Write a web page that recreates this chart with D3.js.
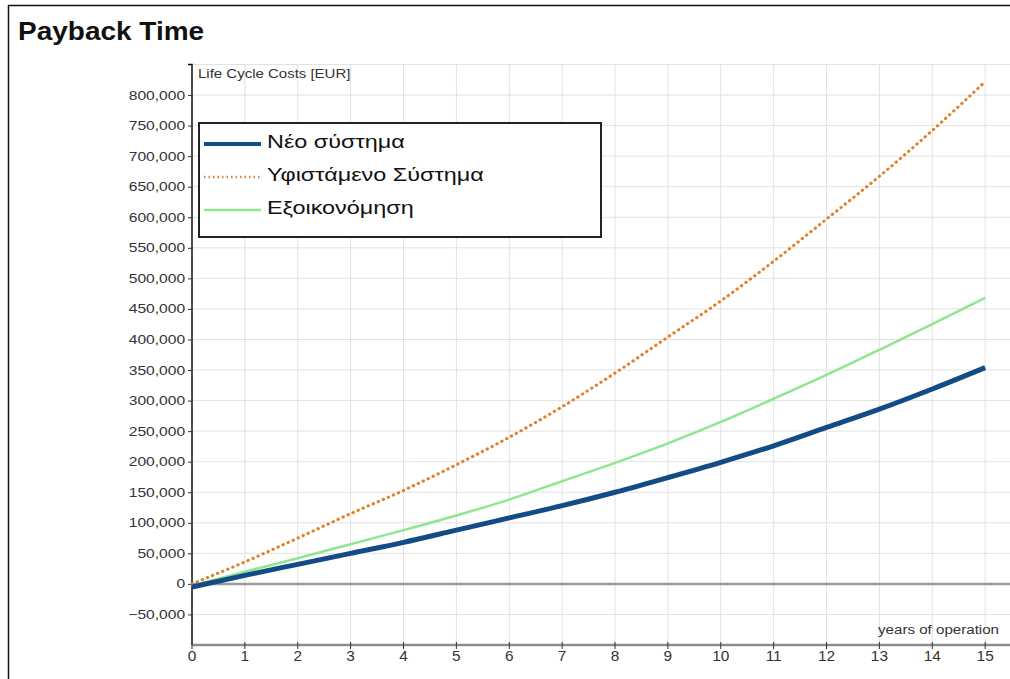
<!DOCTYPE html>
<html>
<head>
<meta charset="utf-8">
<script src="https://cdn.jsdelivr.net/npm/d3@7"></script>
<style>
	body { margin: 0; background: #fff; font-family: Arial, "Liberation Sans", sans-serif; }
	.grid line { stroke: #e2e2e2; stroke-width: 1; }
	.tick text { fill: #333; }
</style>
</head>
<body>
<svg width="1010" height="679"></svg>
<script>
var svg = d3.select("svg"),
	width = +svg.attr("width"),
	height = +svg.attr("height");

// data
var years = [0, 1, 2, 3, 4, 5, 6, 7, 8, 9, 10, 11, 12, 13, 14, 15];
var newSystem = [-5000, 14000, 32000, 50000, 68000, 88000, 108000, 128000, 150000, 174000, 199000, 226000, 256000, 286000, 319000, 354000];
var existingSystem = [0, 36000, 75000, 115000, 153000, 195000, 240000, 290000, 345000, 404000, 463000, 528000, 597000, 667000, 742000, 822000];
var savings = [-3000, 20000, 42000, 65000, 88000, 112000, 138000, 168000, 198000, 230000, 265000, 303000, 342000, 383000, 425000, 468000];
var yTicks = [-50000, 0, 50000, 100000, 150000, 200000, 250000, 300000, 350000, 400000, 450000, 500000, 550000, 600000, 650000, 700000, 750000, 800000];
var seriesNames = ["Νέο σύστημα", "Υφιστάμενο Σύστημα", "Εξοικονόμηση"];

// the source picture is stretched sideways, text too
var stretch = 1.25;

var x = d3.scaleLinear()
	.domain([0, 15.47])
	.range([192, 1010]);

var y = d3.scaleLinear()
	.domain([-100000, 850000])
	.range([645, 64.5]);

// frame + title
svg.append("rect")
	.attr("x", 8.5).attr("y", 5.5)
	.attr("width", 1010).attr("height", 700)
	.attr("fill", "none").attr("stroke", "#111").attr("stroke-width", 1.5);

svg.append("text")
	.attr("transform", "translate(18,40) scale(1.12,1)")
	.attr("font-size", 25).attr("font-weight", "bold")
	.attr("fill", "#111")
	.text("Payback Time");

// grid
var grid = svg.append("g").attr("class", "grid");
grid.selectAll(".vg")
	.data(years.slice(1)).enter()
	.append("line")
	.attr("x1", function(d) { return x(d); })
	.attr("x2", function(d) { return x(d); })
	.attr("y1", y(850000)).attr("y2", y(-100000));
grid.selectAll(".hg")
	.data(yTicks.concat([850000])).enter()
	.append("line")
	.attr("x1", x(0)).attr("x2", width)
	.attr("y1", function(d) { return y(d); })
	.attr("y2", function(d) { return y(d); });

// zero line
svg.append("line")
	.attr("x1", x(0)).attr("x2", width)
	.attr("y1", y(0)).attr("y2", y(0))
	.attr("stroke", "#9a9a9a").attr("stroke-width", 2.5);

// y axis
var yAxis = svg.append("g")
	.attr("transform", "translate(" + x(0) + ",0)")
	.call(d3.axisLeft(y)
		.tickValues(yTicks)
		.tickSize(4)
		.tickFormat(d3.format(",")));
yAxis.select(".domain").attr("stroke", "#111").attr("stroke-width", 1.5)
	.attr("d", "M-4," + y(850000) + "H0V" + y(-100000));
yAxis.selectAll(".tick line").attr("stroke", "#333");
yAxis.selectAll(".tick text")
	.attr("font-size", 12.5)
	.attr("font-family", "Arial, 'Liberation Sans', sans-serif")
	.attr("x", -5.5)
	.attr("transform", "scale(" + stretch + ",1)");

svg.append("text")
	.attr("transform", "translate(198,78) scale(1.2,1)")
	.attr("font-size", 12.5).attr("fill", "#333")
	.text("Life Cycle Costs [EUR]");

// x axis
svg.append("line")
	.attr("x1", x(0)).attr("x2", width)
	.attr("y1", y(-100000)).attr("y2", y(-100000))
	.attr("stroke", "#8c8c8c").attr("stroke-width", 2.5);

var xAxis = svg.append("g")
	.attr("transform", "translate(0," + y(-100000) + ")")
	.call(d3.axisBottom(x)
		.tickValues(years)
		.tickSize(4)
		.tickFormat(d3.format("d")));
xAxis.select(".domain").remove();
xAxis.selectAll(".tick line").attr("stroke", "#333").attr("y1", -3);
xAxis.selectAll(".tick text")
	.attr("font-size", 14)
	.attr("font-family", "Arial, 'Liberation Sans', sans-serif")
	.attr("y", 6)
	.attr("dy", "0.71em")
	.attr("transform", "scale(1.1,1)")
	.attr("x", function(d) { return 0; });
// keep labels centred on ticks after the stretch
xAxis.selectAll(".tick").each(function(d) {
	d3.select(this).attr("transform", "translate(" + x(d) + ",0)");
});

svg.append("text")
	.attr("transform", "translate(999,634) scale(1.21,1)")
	.attr("text-anchor", "end")
	.attr("font-size", 12.5).attr("fill", "#333")
	.text("years of operation");

// lines
var line = d3.line()
	.x(function(d, i) { return x(years[i]); })
	.y(function(d) { return y(d); })
	.curve(d3.curveMonotoneX);

svg.append("path")
	.datum(existingSystem)
	.attr("fill", "none")
	.attr("stroke", "#e0812d")
	.attr("stroke-width", 3)
	.attr("stroke-linecap", "round")
	.attr("stroke-dasharray", "0.5,5")
	.attr("d", line);

svg.append("path")
	.datum(savings)
	.attr("fill", "none")
	.attr("stroke", "#8fe68f")
	.attr("stroke-width", 2.5)
	.attr("d", line);

svg.append("path")
	.datum(newSystem)
	.attr("fill", "none")
	.attr("stroke", "#134b87")
	.attr("stroke-width", 5)
	.attr("d", line);

// legend
var legend = svg.append("g");
legend.append("rect")
	.attr("x", 199).attr("y", 123)
	.attr("width", 402).attr("height", 114)
	.attr("fill", "#fff")
	.attr("stroke", "#222").attr("stroke-width", 2);

var legendStyles = [
	{ color: "#134b87", w: 4, dash: null },
	{ color: "#e0812d", w: 2.5, dash: "1.5,3" },
	{ color: "#8fe68f", w: 2.5, dash: null }
];

var rows = legend.selectAll(".row")
	.data(seriesNames).enter()
	.append("g")
	.attr("transform", function(d, i) { return "translate(0," + (142 + i * 33) + ")"; });

rows.append("line")
	.attr("x1", 204).attr("x2", 261)
	.attr("y1", 2).attr("y2", 2)
	.attr("stroke", function(d, i) { return legendStyles[i].color; })
	.attr("stroke-width", function(d, i) { return legendStyles[i].w; })
	.attr("stroke-dasharray", function(d, i) { return legendStyles[i].dash; });

rows.append("text")
	.attr("transform", "translate(267,0) scale(1.3,1)")
	.attr("dy", "0.35em")
	.attr("font-size", 18).attr("fill", "#111")
	.text(function(d) { return d; });
</script>
</body>
</html>
